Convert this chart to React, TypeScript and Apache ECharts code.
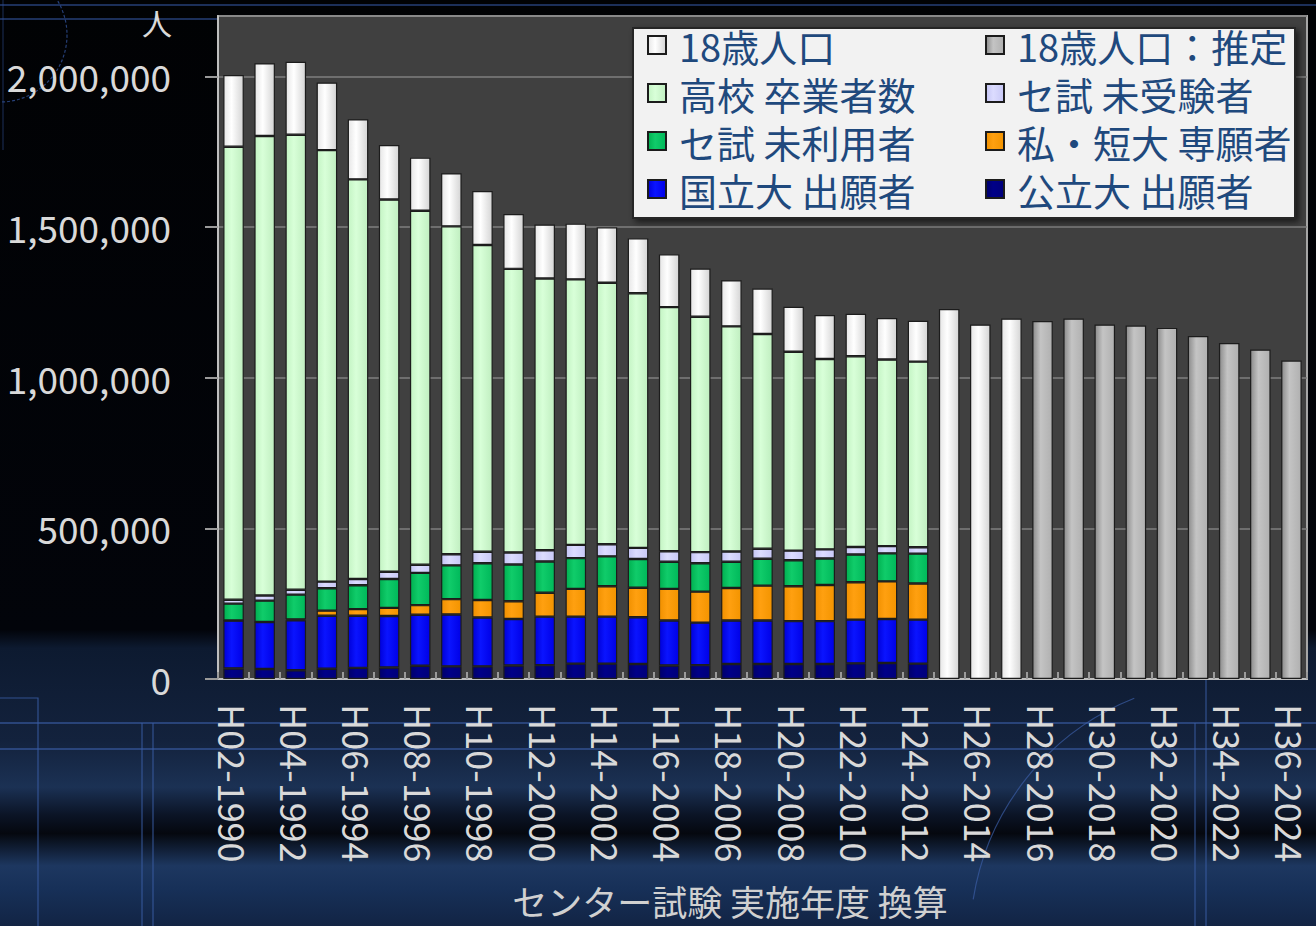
import React, { useEffect, useRef } from 'react';
import * as echarts from 'echarts';

// ---- Data (people) ----
const categories = [
  'H02-1990', 'H03-1991', 'H04-1992', 'H05-1993', 'H06-1994', 'H07-1995', 'H08-1996',
  'H09-1997', 'H10-1998', 'H11-1999', 'H12-2000', 'H13-2001', 'H14-2002', 'H15-2003',
  'H16-2004', 'H17-2005', 'H18-2006', 'H19-2007', 'H20-2008', 'H21-2009', 'H22-2010',
  'H23-2011', 'H24-2012', 'H25-2013', 'H26-2014', 'H27-2015', 'H28-2016', 'H29-2017',
  'H30-2018', 'H31-2019', 'H32-2020', 'H33-2021', 'H34-2022', 'H35-2023', 'H36-2024',
];

// 公立大 出願者 (1990-2012)
const publicUnivApplicants = [
  35000, 33000, 29000, 34000, 37000, 38000, 44000, 42000, 42000, 45000, 46000, 51000,
  51000, 50000, 45000, 46000, 50000, 50000, 50000, 50000, 52000, 53000, 51000,
];
// 国立大 出願者
const nationalUnivApplicants = [
  159000, 156000, 166000, 176000, 173000, 171000, 169000, 172000, 162000, 154000, 161000,
  156000, 156000, 155000, 149000, 141000, 144000, 144000, 142000, 142000, 145000, 146000,
  146000,
];
// 私・短大 専願者
const privateOnlyApplicants = [
  0, 0, 3000, 17000, 22000, 27000, 32000, 51000, 58000, 59000, 79000, 92000, 101000,
  98000, 105000, 103000, 108000, 116000, 116000, 120000, 124000, 125000, 120000,
];
// セ試 未利用者
const centerNotUsed = [
  56000, 71000, 82000, 74000, 79000, 96000, 107000, 112000, 122000, 122000, 104000,
  102000, 99000, 95000, 90000, 94000, 87000, 89000, 86000, 88000, 92000, 93000, 99000,
];
// セ試 未受験者
const centerAbsent = [
  13000, 17000, 16000, 22000, 21000, 24000, 27000, 37000, 38000, 40000, 37000, 44000,
  40000, 37000, 35000, 37000, 34000, 33000, 32000, 30000, 25000, 24000, 21000,
];
// 高校 卒業者数 (total)
const hsGraduates = [
  1766000, 1802000, 1806000, 1755000, 1658000, 1591000, 1554000, 1502000, 1440000,
  1361000, 1329000, 1326000, 1315000, 1280000, 1234000, 1202000, 1170000, 1145000,
  1086000, 1062000, 1071000, 1060000, 1053000,
];
// 18歳人口 (total, 1990-2015)
const population18 = [
  2004000, 2043000, 2048000, 1979000, 1857000, 1772000, 1730000, 1678000, 1619000,
  1543000, 1508000, 1511000, 1499000, 1462000, 1409000, 1362000, 1323000, 1296000,
  1235000, 1208000, 1212000, 1198000, 1189000, 1228000, 1176000, 1196000,
];
// 18歳人口：推定 (2016-2024)
const population18Est = [
  1188000, 1196000, 1176000, 1173000, 1165000, 1138000, 1115000, 1093000, 1057000,
];

const yTicks = { min: 0, max: 2200000, interval: 500000 };

const FONT = '"Noto Sans CJK JP", "Noto Sans", sans-serif';

function pad(arr: (number | null)[], offset = 0) {
  return categories.map((_, i) => {
    const j = i - offset;
    return j >= 0 && j < arr.length && arr[j] != null ? arr[j] : '-';
  });
}

function grad(a: string, b: string, c: string) {
  return new echarts.graphic.LinearGradient(0, 0, 1, 0, [
    { offset: 0, color: a },
    { offset: 0.4, color: b },
    { offset: 1, color: c },
  ]);
}

export default function App() {
  const ref = useRef<HTMLDivElement>(null);

  useEffect(() => {
    if (!ref.current) return;
    const chart = echarts.init(ref.current, null, { renderer: 'svg' });

    const nStack = hsGraduates.length;
    const gradSeg = hsGraduates.map(
      (g, i) =>
        g -
        (publicUnivApplicants[i] +
          nationalUnivApplicants[i] +
          privateOnlyApplicants[i] +
          centerNotUsed[i] +
          centerAbsent[i])
    );
    const popSeg = population18.map((p, i) => (i < nStack ? p - hsGraduates[i] : p));

    const border = { borderColor: '#1c1c1c', borderWidth: 1.2 };
    const bar = (name: string, data: any[], color: any) => ({
      name,
      type: 'bar',
      stack: 'total',
      barWidth: '66%',
      data,
      itemStyle: { color, ...border },
      emphasis: { disabled: true },
    });

    const legendText = {
      fontSize: 38,
      lineHeight: 38,
      color: '#1f497d',
      fontFamily: FONT,
      padding: [0, 0, 0, 8],
    };

    const legendBase = {
      orient: 'vertical',
      top: 26,
      padding: [0, 0, 0, 0],
      itemWidth: 18,
      itemHeight: 18,
      itemGap: 10,
      icon: 'rect',
      selectedMode: false,
      textStyle: legendText,
    };

    const option: any = {
      animation: false,
      backgroundColor: new echarts.graphic.LinearGradient(0, 0, 0, 1, [
        { offset: 0, color: '#010204' },
        { offset: 0.68, color: '#02040a' },
        { offset: 0.7, color: '#0d1a30' },
        { offset: 0.8, color: '#13223d' },
        { offset: 0.85, color: '#1b3154' },
        { offset: 0.88, color: '#0b1426' },
        { offset: 0.9, color: '#05080f' },
        { offset: 0.935, color: '#1d3760' },
        { offset: 0.96, color: '#173058' },
        { offset: 1, color: '#122444' },
      ]),
      textStyle: { fontFamily: FONT },
      grid: {
        left: 218,
        right: 9,
        top: 16,
        bottom: 247,
        show: true,
        backgroundColor: '#404040',
        borderColor: '#a6a6a6',
        borderWidth: 2,
        containLabel: false,
      },
      legend: [
        {
          ...legendBase,
          left: 647,
          data: ['18歳人口', '高校 卒業者数', 'セ試 未利用者', '国立大 出願者'],
        },
        {
          ...legendBase,
          left: 985,
          data: ['18歳人口：推定', 'セ試 未受験者', '私・短大 専願者', '公立大 出願者'],
        },
      ],
      xAxis: {
        type: 'category',
        data: categories,
        axisLine: { lineStyle: { color: '#bfbfbf', width: 2 } },
        axisTick: {
          show: true,
          inside: true,
          length: 7,
          interval: 0,
          lineStyle: { color: '#9a9a9a', width: 2 },
        },
        axisLabel: {
          interval: 1,
          rotate: -90,
          margin: 25,
          fontSize: 36,
          color: '#d9d9d9',
          fontFamily: FONT,
        },
        splitLine: { show: false },
      },
      yAxis: {
        type: 'value',
        min: yTicks.min,
        max: yTicks.max,
        interval: yTicks.interval,
        axisLine: { show: true, lineStyle: { color: '#bfbfbf', width: 2 } },
        axisTick: { show: true, length: 13, lineStyle: { color: '#9a9a9a', width: 2 } },
        axisLabel: {
          showMaxLabel: false,
          margin: 47,
          fontSize: 37,
          color: '#d9d9d9',
          fontFamily: FONT,
          formatter: (v: number) => v.toLocaleString('en-US'),
        },
        splitLine: { show: true, lineStyle: { color: '#7f7f7f', width: 1.5 } },
      },
      series: [
        bar('公立大 出願者', pad(publicUnivApplicants), grad('#00006a', '#000088', '#00007a')),
        bar('国立大 出願者', pad(nationalUnivApplicants), grad('#0000d8', '#0a14ff', '#0000e6')),
        bar('私・短大 専願者', pad(privateOnlyApplicants), grad('#f09000', '#ffa010', '#f39400')),
        bar('セ試 未利用者', pad(centerNotUsed), grad('#00b050', '#10cc6a', '#00b85a')),
        bar('セ試 未受験者', pad(centerAbsent), grad('#c4c4f4', '#dcdcff', '#c8c8f6')),
        bar('高校 卒業者数', pad(gradSeg), grad('#c4f4c4', '#d8ffd8', '#c0eec0')),
        bar('18歳人口', pad(popSeg), grad('#e6e6e6', '#ffffff', '#d4d4d4')),
        bar(
          '18歳人口：推定',
          pad(population18Est, categories.length - population18Est.length),
          grad('#8c8c8c', '#c4c4c4', '#b0b0b0')
        ),
      ],
      graphic: [
        // background decorations
        { type: 'line', z: -1, silent: true, shape: { x1: 0, y1: 5, x2: 1316, y2: 5 }, style: { stroke: '#2f4f94', lineWidth: 1.5, opacity: 0.8 } },
        { type: 'line', z: -1, silent: true, shape: { x1: 0, y1: 19, x2: 218, y2: 19 }, style: { stroke: '#2f4f94', lineWidth: 1.5, opacity: 0.8 } },
        { type: 'line', z: -1, silent: true, shape: { x1: 3, y1: 0, x2: 3, y2: 150 }, style: { stroke: '#2f4f94', lineWidth: 1, opacity: 0.6 } },
        { type: 'circle', z: -1, silent: true, shape: { cx: 0, cy: 35, r: 67 }, style: { fill: 'none', stroke: '#2f4f94', lineWidth: 1.2, lineDash: [3, 2], opacity: 0.8 } },
        { type: 'line', z: -1, silent: true, shape: { x1: 0, y1: 723, x2: 1316, y2: 723 }, style: { stroke: '#3a5ca4', lineWidth: 1.5, opacity: 0.8 } },
        { type: 'line', z: -1, silent: true, shape: { x1: 0, y1: 749, x2: 1316, y2: 749 }, style: { stroke: '#3a5ca4', lineWidth: 1.5, opacity: 0.8 } },
        { type: 'polyline', z: -1, silent: true, shape: { points: [[0, 698], [38, 698], [38, 926]] }, style: { fill: 'none', stroke: '#3a5ca4', lineWidth: 1.2, opacity: 0.8 } },
        { type: 'line', z: -1, silent: true, shape: { x1: 142, y1: 723, x2: 142, y2: 926 }, style: { stroke: '#3a5ca4', lineWidth: 1.2, opacity: 0.8 } },
        { type: 'line', z: -1, silent: true, shape: { x1: 153, y1: 723, x2: 153, y2: 926 }, style: { stroke: '#3a5ca4', lineWidth: 1.2, opacity: 0.8 } },
        { type: 'line', z: -1, silent: true, shape: { x1: 1195, y1: 723, x2: 1195, y2: 926 }, style: { stroke: '#3a5ca4', lineWidth: 1.2, opacity: 0.8 } },
        { type: 'line', z: -1, silent: true, shape: { x1: 1206, y1: 680, x2: 1206, y2: 926 }, style: { stroke: '#3a5ca4', lineWidth: 1.2, opacity: 0.8 } },
        { type: 'arc', z: -1, silent: true, shape: { cx: 1230, cy: 940, r: 260, startAngle: Math.PI * 1.05, endAngle: Math.PI * 1.38 }, style: { fill: 'none', stroke: '#3a5ca4', lineWidth: 1.2, opacity: 0.7 } },
        // legend box
        {
          type: 'rect',
          z: 3,
          silent: true,
          shape: { x: 633, y: 28, width: 662, height: 190 },
          style: {
            fill: '#f2f2f2',
            stroke: '#262626',
            lineWidth: 2,
            shadowBlur: 6,
            shadowOffsetX: 3,
            shadowOffsetY: 3,
            shadowColor: 'rgba(0,0,0,0.6)',
          },
        },
        // unit
        {
          type: 'text',
          z: 5,
          silent: true,
          x: 157,
          y: 22,
          style: {
            text: '人',
            fill: '#d9d9d9',
            fontSize: 30,
            fontFamily: FONT,
            align: 'center',
            verticalAlign: 'middle',
          },
        },
        // x axis title
        {
          type: 'text',
          z: 5,
          silent: true,
          x: 730,
          y: 900,
          style: {
            text: 'センター試験 実施年度 換算',
            fill: '#d0d0d0',
            fontSize: 35,
            fontFamily: FONT,
            align: 'center',
            verticalAlign: 'middle',
          },
        },
      ],
    };

    chart.setOption(option);
    return () => chart.dispose();
  }, []);

  return (
    <div
      ref={ref}
      style={{ position: 'fixed', left: 0, top: 0, width: 1316, height: 926 }}
    />
  );
}
